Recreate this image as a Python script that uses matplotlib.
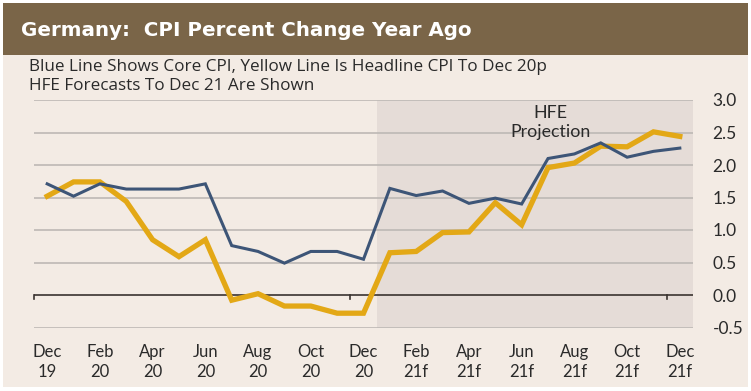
import numpy as np
import matplotlib
matplotlib.use('Agg')
import matplotlib.pyplot as plt
from matplotlib.patches import Rectangle

# monthly data Dec 19 .. Dec 21 (2021 = HFE forecast)
core = [1.71, 1.52, 1.71, 1.63, 1.63, 1.63, 1.71, 0.76, 0.67, 0.49, 0.67, 0.67, 0.55,
        1.64, 1.53, 1.60, 1.41, 1.49, 1.40, 2.10, 2.17, 2.34, 2.12, 2.21, 2.26]
headline = [1.52, 1.74, 1.74, 1.44, 0.85, 0.59, 0.85, -0.08, 0.02, -0.17, -0.17, -0.28, -0.28,
            0.65, 0.67, 0.96, 0.97, 1.42, 1.08, 1.96, 2.03, 2.29, 2.28, 2.51, 2.44]
xlabels = ['Dec\n19', 'Feb\n20', 'Apr\n20', 'Jun\n20', 'Aug\n20', 'Oct\n20', 'Dec\n20',
           'Feb\n21f', 'Apr\n21f', 'Jun\n21f', 'Aug\n21f', 'Oct\n21f', 'Dec\n21f']
yticks = [3.0, 2.5, 2.0, 1.5, 1.0, 0.5, 0.0, -0.5]
proj_start = 12.5
year_ticks = [-0.5, 11.5, 23.5]

bg = '#f3ebe4'
brown = '#7a6548'
shade = '#e5dcd7'
blue = '#3d5577'
yellow = '#e3a816'
txt = '#2a2a2a'
W, H = 751, 391

fig = plt.figure(figsize=(W / 100, H / 100), dpi=100)
fig.patch.set_facecolor('white')
fig.patches.append(Rectangle((3 / W, 4 / H), 745 / W, 384 / H, transform=fig.transFigure,
                             facecolor=bg, edgecolor='none', zorder=-2))
fig.patches.append(Rectangle((3 / W, (H - 55) / H), 745 / W, 52 / H, transform=fig.transFigure,
                             facecolor=brown, edgecolor='none', zorder=-1))

fig.text(21 / W, 1 - 30 / H, 'Germany:  CPI Percent Change Year Ago', color='white',
         fontsize=14.3, fontweight='bold', family='DejaVu Sans', va='center')
fig.text(29 / W, 1 - 67 / H, 'Blue Line Shows Core CPI, Yellow Line Is Headline CPI To Dec 20p',
         fontsize=12.3, family='Open Sans', va='center', color=txt)
fig.text(29 / W, 1 - 86 / H, 'HFE Forecasts To Dec 21 Are Shown',
         fontsize=12.3, family='Open Sans', va='center', color=txt)

x0, x1, ytop, ybot = 34, 693, 100, 327.5
ax = fig.add_axes([x0 / W, (H - ybot) / H, (x1 - x0) / W, (ybot - ytop) / H])
ax.set_facecolor('none')
ax.set_xlim(-0.5, 24.5)
ax.set_ylim(-0.5, 3.0)
ax.axvspan(proj_start, 24.5, color=shade, zorder=0, lw=0)

for v in yticks:
    if v == 0:
        ax.axhline(v, color='#3a3330', lw=1.2, zorder=1)
    else:
        ax.axhline(v, color='#bdb8b5', lw=1.2, zorder=1)
for t in year_ticks:
    ax.plot([t, t], [0, -0.06], color='#3a3330', lw=1.2, zorder=1, clip_on=False)

x = np.arange(len(core))
ax.plot(x, headline, color=yellow, lw=3.8, zorder=3, solid_joinstyle='miter')
ax.plot(x, core, color=blue, lw=2.2, zorder=4, solid_joinstyle='miter')

ax.text(19.1, 2.65, 'HFE\nProjection', ha='center', va='center', fontsize=12.8,
        family='Lato', color=txt, linespacing=1.2)

for s in ax.spines.values():
    s.set_visible(False)
ax.yaxis.tick_right()
ax.set_yticks(yticks)
ax.set_yticklabels(['%.1f' % v for v in yticks], family='Lato', fontsize=12.5, color=txt)
ax.tick_params(axis='y', length=0, pad=14)
ax.set_xticks(np.arange(0, 25, 2))
ax.set_xticklabels(xlabels, family='Lato', fontsize=12, color=txt, linespacing=1.3)
ax.tick_params(axis='x', length=0, pad=12)

fig.savefig('out.png', dpi=100, facecolor=fig.get_facecolor())
